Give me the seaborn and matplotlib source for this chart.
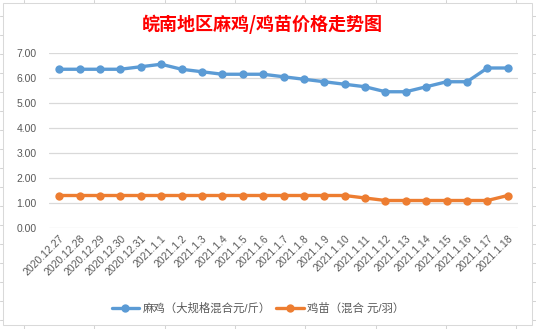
import matplotlib
matplotlib.use("Agg")
import matplotlib.pyplot as plt
from matplotlib.patches import Rectangle
from matplotlib.lines import Line2D
import seaborn as sns
import pandas as pd

dates = ["2020.12.27", "2020.12.28", "2020.12.29", "2020.12.30", "2020.12.31",
         "2021.1.1", "2021.1.2", "2021.1.3", "2021.1.4", "2021.1.5", "2021.1.6",
         "2021.1.7", "2021.1.8", "2021.1.9", "2021.1.10", "2021.1.11", "2021.1.12",
         "2021.1.13", "2021.1.14", "2021.1.15", "2021.1.16", "2021.1.17", "2021.1.18"]
maji = [6.35, 6.35, 6.35, 6.35, 6.45, 6.55, 6.35, 6.25, 6.15, 6.15, 6.15,
        6.05, 5.95, 5.85, 5.75, 5.65, 5.45, 5.45, 5.65, 5.85, 5.85, 6.4, 6.4]
jimiao = [1.3, 1.3, 1.3, 1.3, 1.3, 1.3, 1.3, 1.3, 1.3, 1.3, 1.3,
          1.3, 1.3, 1.3, 1.3, 1.2, 1.1, 1.1, 1.1, 1.1, 1.1, 1.1, 1.3]
series_names = ["麻鸡（大规格混合元/斤）", "鸡苗（混合 元/羽）"]
yticks = [0, 1, 2, 3, 4, 5, 6, 7]
title = "皖南地区麻鸡/鸡苗价格走势图"

sns.set_theme(style="white")
plt.rcParams['font.family'] = ['Liberation Sans', 'Noto Sans CJK SC', 'DejaVu Sans']

W, H = 536, 329
fig = plt.figure(figsize=(W / 100, H / 100), dpi=100)
fig.patch.set_facecolor("white")

# Excel cell grid behind chart
for xv in [24, 94, 165, 235, 305, 376, 446, 516]:
    fig.add_artist(Line2D([xv / W, xv / W], [0, 1], color="#D4D4D4", lw=0.75, zorder=0))
for yv in range(16, H, 19):
    fig.add_artist(Line2D([0, 1], [1 - yv / H, 1 - yv / H], color="#D4D4D4", lw=0.75, zorder=0))
fig.add_artist(Rectangle((3 / W, 1 - 325 / H), (532 - 3) / W, (325 - 3) / H,
                         facecolor="white", edgecolor="#D9D9D9", lw=0.75, zorder=1))

ax = fig.add_axes([49 / W, 1 - 228 / H, (518 - 49) / W, (228 - 53) / H])
ax.set_facecolor("none")
ax.set_zorder(2)

df = pd.DataFrame({
    "date": dates * 2,
    "value": maji + jimiao,
    "series": [series_names[0]] * len(dates) + [series_names[1]] * len(dates),
})
palette = {series_names[0]: "#5B9BD5", series_names[1]: "#ED7D31"}
sns.lineplot(data=df, x="date", y="value", hue="series", palette=palette,
             marker="o", markersize=6, markeredgewidth=0, linewidth=2.4,
             sort=False, ax=ax)

ax.set_xlim(-0.5, len(dates) - 0.5)
ax.set_ylim(0, 7)
ax.set_yticks(yticks)
ax.set_yticklabels([f"{v:.2f}" for v in yticks], fontsize=7.5, color="#595959")
ax.set_xticks(range(len(dates)))
ax.set_xticklabels(dates, rotation=45, ha="right", va="top", rotation_mode="anchor",
                   fontsize=7.5, color="#595959")
ax.tick_params(axis="both", length=0, pad=4)
ax.tick_params(axis="y", pad=9)
ax.grid(axis="y", color="#D9D9D9", lw=0.9)
ax.set_axisbelow(True)
for s in ax.spines.values():
    s.set_visible(False)
ax.set_xlabel("")
ax.set_ylabel("")

handles, labels = ax.get_legend_handles_labels()
ax.legend(handles, labels, loc="center", bbox_to_anchor=(258 / W, 1 - 308 / H),
          bbox_transform=fig.transFigure, ncol=2, frameon=False, fontsize=8.2,
          labelcolor="#595959", handlelength=2.4, columnspacing=0.5, handletextpad=0.3)

fig.text(262 / W, 1 - 24 / H, title, ha="center", va="center", color="#FF0000",
         fontsize=13, fontweight="bold", family=['Noto Sans CJK SC', 'DejaVu Sans'])

fig.savefig("out.png", dpi=100, facecolor="white")
